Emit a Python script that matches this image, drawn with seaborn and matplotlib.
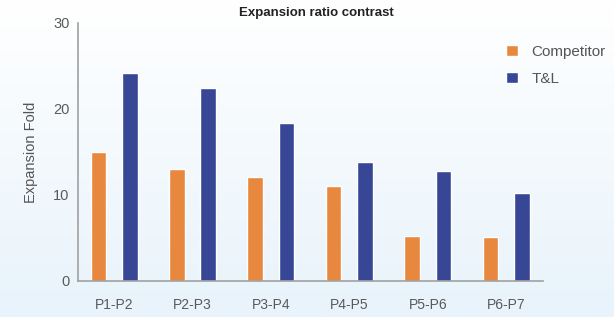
import numpy as np
import pandas as pd
import matplotlib
matplotlib.use('Agg')
import matplotlib.pyplot as plt
import seaborn as sns

# data
passages = ['P1-P2', 'P2-P3', 'P3-P4', 'P4-P5', 'P5-P6', 'P6-P7']
competitor = [15.0, 13.0, 12.1, 11.0, 5.2, 5.1]
tl = [24.2, 22.4, 18.4, 13.8, 12.8, 10.2]
groups = ['Competitor', 'T&L']

df = pd.DataFrame({
    'passage': passages * 2,
    'fold': competitor + tl,
    'group': ['Competitor'] * len(passages) + ['T&L'] * len(passages),
})

sns.set_style('white')
plt.rcParams['font.family'] = ['Liberation Sans', 'DejaVu Sans']

fig = plt.figure(figsize=(6.14, 3.17), dpi=100)

# soft white -> light blue background
bg = fig.add_axes([0, 0, 1, 1], zorder=-10)
grad = np.linspace(0, 1, 256).reshape(-1, 1)
top = np.array([1.0, 1.0, 1.0])
bot = np.array([232, 243, 251]) / 255
img = top[None, None, :] * (1 - grad[:, :, None]) + bot[None, None, :] * grad[:, :, None]
bg.imshow(img, aspect='auto', extent=[0, 1, 0, 1])
bg.axis('off')

ax = fig.add_axes([78/614, 1-281/317, (543-78)/614, (281-23)/317])
ax.patch.set_alpha(0)

pal = {'Competitor': '#E8883F', 'T&L': '#374796'}
sns.barplot(data=df, x='passage', y='fold', hue='group', hue_order=groups,
            palette=pal, width=0.8, gap=0.5, ax=ax, saturation=1)

ax.set_xlim(-0.46, 5.47)
ax.set_ylim(0, 30)
ax.set_yticks([0, 10, 20, 30])
ax.set_xlabel('')
ax.set_ylabel('Expansion Fold', fontsize=10.5, color='#555555', labelpad=11)
ax.tick_params(axis='both', labelcolor='#5a5a5a', colors='#999999',
               length=5, width=1)
ax.tick_params(axis='y', labelsize=10.5, pad=1)
ax.tick_params(axis='x', labelsize=10, pad=7)
for s in ['top', 'right']:
    ax.spines[s].set_visible(False)
for s in ['left', 'bottom']:
    ax.spines[s].set_color('#a0a0a0')
    ax.spines[s].set_linewidth(1.2)

fig.text(316/614, 1-13/317, 'Expansion ratio contrast', ha='center', va='center',
         fontsize=9.5, fontweight='bold', color='#222222')

h, l = ax.get_legend_handles_labels()
ax.legend(h, l, loc='upper left', bbox_to_anchor=(506/614, 1-45/317),
          bbox_transform=fig.transFigure, frameon=False, fontsize=11,
          borderpad=0, borderaxespad=0,
          handlelength=0.8, handleheight=0.7, handletextpad=0.85,
          labelspacing=0.85, labelcolor='#555555')

fig.savefig('out.png', dpi=100)
